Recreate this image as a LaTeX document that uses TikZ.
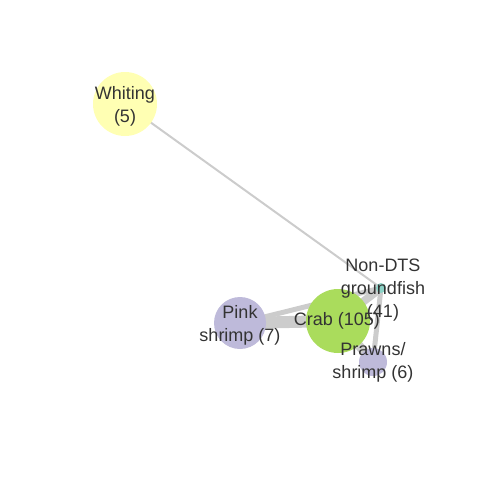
\documentclass[tikz,border=0pt]{standalone}
\usepackage{fontspec}
\setmainfont{Liberation Sans}
\usepackage{tikz}
\usetikzlibrary{shapes, positioning, calc, backgrounds}
\definecolor{txtgray}{HTML}{333333}
\definecolor{edgegray}{HTML}{CCCCCC}
\definecolor{whitingyellow}{HTML}{FFFFB3}
\definecolor{crabgreen}{HTML}{AADC5C}
\definecolor{shrimplilac}{HTML}{BEBADA}
\definecolor{groundteal}{HTML}{8DD3C7}
\tikzstyle{species} = [circle, draw=none, inner sep=0pt]
\tikzstyle{tag} = [text=txtgray, font=\fontsize{18}{23}\selectfont, align=center, inner sep=0pt]
\tikzstyle{link} = [draw=edgegray, line cap=round]

\begin{document}
\begin{tikzpicture}[x=1pt, y=-1pt]
            \useasboundingbox (0,0) rectangle (480,480);
            % Nodes
            \node [species, fill=whitingyellow, minimum size=64pt] (whiting) at (125,104) {};
            \node [species, fill=shrimplilac, minimum size=52pt] (pink) at (240,323) {};
            \node [species, fill=crabgreen, minimum size=64pt] (crab) at (338,321) {};
            \node [species, fill=shrimplilac, minimum size=28pt] (prawns) at (373,362) {};
            \node [species, fill=groundteal, minimum size=10pt] (nondts) at (381,288) {};

            % Lines
            \begin{scope}[on background layer]
            \path [link, line width=2pt] (whiting.center) -- (nondts.center);
            \path [link, line width=12pt] (pink.center) -- (crab.center);
            \path [link, line width=5pt] (pink.center) -- (nondts.center);
            \path [link, line width=8pt] (crab.center) -- (nondts.center);
            \path [link, line width=9pt] (crab.center) -- (prawns.center);
            \path [link, line width=5pt] (nondts.center) -- (prawns.center);
            \end{scope}

            % Labels
            \node [tag] (whitinglabel) at (125,106) {Whiting\\(5)};
            \node [tag] (pinklabel) at (240,325) {Pink\\shrimp (7)};
            \node [tag] (crablabel) at (337,321) {Crab (105)};
            \node [tag] (prawnslabel) at (373,362) {Prawns/\\shrimp (6)};
            \node [tag] (nondtslabel) at (383,290) {Non-DTS\\groundfish\\(41)};
        \end{tikzpicture}
\end{document}
